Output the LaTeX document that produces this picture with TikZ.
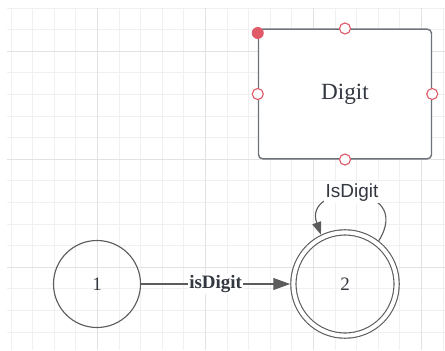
\documentclass[tikz,border=0pt]{standalone}
\usepackage{fontspec}
\setmainfont{Liberation Serif}
\newfontfamily\labelsans{Liberation Sans}
\usetikzlibrary{arrows.meta,calc,positioning}
\definecolor{gridminor}{HTML}{F0F0F0}
\definecolor{gridmajor}{HTML}{E2E2E2}
\definecolor{edgegray}{HTML}{5C5C5C}
\definecolor{boxgray}{HTML}{6E7379}
\definecolor{handlered}{HTML}{E05A68}
\definecolor{inkgray}{HTML}{333840}
\tikzset{
  gridline/.style={draw=gridminor,line width=0.6pt},
  state/.style={circle,draw=edgegray,line width=0.8pt,inner sep=0pt,text=inkgray,
    font=\fontsize{13.5}{16}\selectfont},
  accepting/.style={state,double=white,double distance=2.9pt,outer sep=2.3pt},
  edge/.style={draw=edgegray,line width=0.8pt,-{Triangle[length=12pt,width=8.5pt]}},
  edgelabel/.style={fill=white,inner sep=1pt,text=inkgray,font=\fontsize{13.5}{16}\selectfont\bfseries},
  looplabel/.style={fill=white,inner sep=1pt,text=inkgray,font=\labelsans\fontsize{13.5}{16}\selectfont},
  handle/.style={draw=handlered,fill=white,line width=0.8pt}
}
\begin{document}
\begin{tikzpicture}[x=0.025cm,y=0.025cm]
\useasboundingbox (0,0) rectangle (445,350);
\foreach \k in {0,...,20} \draw[gridline] ({11+21.6*\k},0) -- ({11+21.6*\k},342);
\foreach \k in {0,...,15} \draw[gridline] (7,{342-21.6*\k}) -- (445,{342-21.6*\k});
\foreach \k in {4,9,14,19} \draw[gridline,draw=gridmajor] ({11+21.6*\k},0) -- ({11+21.6*\k},342);
\foreach \k in {2,7,12} \draw[gridline,draw=gridmajor] (7,{342-21.6*\k}) -- (445,{342-21.6*\k});

\node[draw=boxgray,line width=1pt,rounded corners=3pt,fill=white,minimum width=4.325cm,
  minimum height=3.24cm,text=inkgray,font=\fontsize{16.5}{20}\selectfont] (box) at (345,256) {Digit};
\foreach \a in {north,west,east,south} \draw[handle] (box.\a) circle (5.5);
\fill[handlered] ($(box.north west)+(0,-4.5)$) circle (6);

\node[state,minimum size=2.175cm] (s1) at (97,66) {1};
\node[accepting,minimum size=2.58cm] (s2) at (345,66) {2};

\draw[edge] (s1) -- node[edgelabel] (e12) {isDigit} (s2);
\draw[edge,-{Triangle[length=9pt,width=6.5pt]}] (s2.52) .. controls (415,168) and (302,168) .. (s2.116);
\node[looplabel] (e22) at (352,157.5) {IsDigit};
\end{tikzpicture}
\end{document}
